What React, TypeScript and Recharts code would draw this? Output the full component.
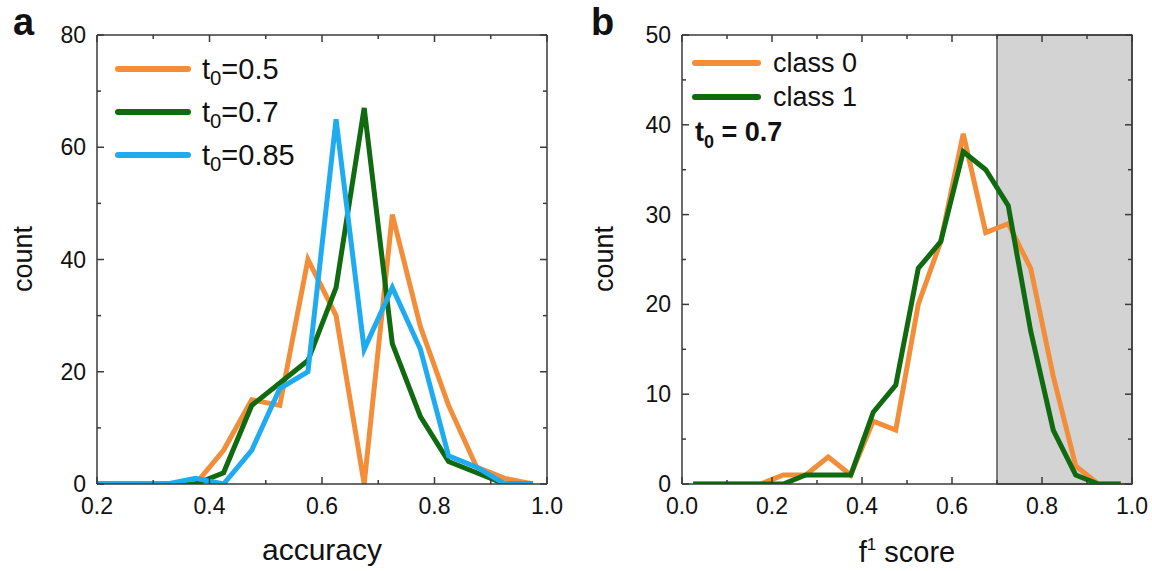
import React from "react";
import { LineChart, Line, XAxis, YAxis, ReferenceArea, Legend } from "recharts";

// panel a: accuracy histograms (bin centres)
const accBins = [0.175, 0.225, 0.275, 0.325, 0.375, 0.425, 0.475, 0.525, 0.575, 0.625, 0.675, 0.725, 0.775, 0.825, 0.875, 0.925, 0.975];
const accT050 = [0, 0, 0, 0, 0, 6, 15, 14, 40, 30, 0, 48, 28, 14, 3, 1, 0];
const accT070 = [0, 0, 0, 0, 0, 2, 14, 18, 22, 35, 67, 25, 12, 4, 2, 0, 0];
const accT085 = [0, 0, 0, 0, 1, 0, 6, 17, 20, 65, 24, 35, 24, 5, 3, 0, 0];

// panel b: f1 score histograms
const f1Bins = [0.025, 0.075, 0.125, 0.175, 0.225, 0.275, 0.325, 0.375, 0.425, 0.475, 0.525, 0.575, 0.625, 0.675, 0.725, 0.775, 0.825, 0.875, 0.925, 0.975];
const f1Class0 = [0, 0, 0, 0, 1, 1, 3, 1, 7, 6, 20, 27, 39, 28, 29, 24, 12, 2, 0, 0];
const f1Class1 = [0, 0, 0, 0, 0, 1, 1, 1, 8, 11, 24, 27, 37, 35, 31, 17, 6, 1, 0, 0];

const accXTicks = [0.2, 0.3, 0.4, 0.5, 0.6, 0.7, 0.8, 0.9, 1.0];
const accXMajor = [0.2, 0.4, 0.6, 0.8, 1.0];
const accYTicks = [0, 10, 20, 30, 40, 50, 60, 70, 80];
const accYMajor = [0, 20, 40, 60, 80];

const f1XTicks = [0, 0.1, 0.2, 0.3, 0.4, 0.5, 0.6, 0.7, 0.8, 0.9, 1.0];
const f1XMajor = [0, 0.2, 0.4, 0.6, 0.8, 1.0];
const f1YTicks = [0, 5, 10, 15, 20, 25, 30, 35, 40, 45, 50];
const f1YMajor = [0, 10, 20, 30, 40, 50];

const threshold = 0.7;

const ORANGE = "#f28e3a";
const GREEN = "#106a10";
const BLUE = "#1fabf0";
const FRAME = "#3a3a3a";
const FONT = '"Liberation Sans", Arial, Helvetica, sans-serif';

const accData = accBins.map((x, i) => ({ x, a: accT050[i], b: accT070[i], c: accT085[i] }));
const f1Data = f1Bins.map((x, i) => ({ x, c0: f1Class0[i], c1: f1Class1[i] }));

type Side = "bottom" | "left" | "top" | "right";

// inward tick marks, longer on majors; labels only on bottom/left majors
const tickMark =
  (side: Side, majors: number[], fmt?: (v: number) => string) =>
  (p: any) => {
    const v = p.payload.value;
    const major = majors.some((m) => Math.abs(m - v) < 1e-6);
    const len = major ? 7 : 4;
    const { x, y } = p;
    const txt = { fontFamily: FONT, fontSize: 23, fill: "#111" };
    if (side === "bottom")
      return (
        <g>
          <line x1={x} x2={x} y1={y} y2={y - len} stroke={FRAME} strokeWidth={1.5} />
          {fmt && major && (
            <text x={x} y={y + 30} textAnchor="middle" {...txt}>
              {fmt(v)}
            </text>
          )}
        </g>
      );
    if (side === "left")
      return (
        <g>
          <line x1={x} x2={x + len} y1={y} y2={y} stroke={FRAME} strokeWidth={1.5} />
          {fmt && major && (
            <text x={x - 11} y={y + 8} textAnchor="end" {...txt}>
              {fmt(v)}
            </text>
          )}
        </g>
      );
    if (side === "top")
      return <line x1={x} x2={x} y1={y} y2={y + len} stroke={FRAME} strokeWidth={1.5} />;
    return <line x1={x} x2={x - len} y1={y} y2={y} stroke={FRAME} strokeWidth={1.5} />;
  };

const sub0 = (name: string) =>
  name.startsWith("t0") ? (
    <>
      t
      <span style={{ fontSize: "0.7em", position: "relative", top: "0.3em" }}>0</span>
      {name.slice(2)}
    </>
  ) : (
    name
  );

const legendContent = (lineW: number, rowH: number, gap: number, fontSize: number) => (props: any) => (
  <div>
    {(props.payload || []).map((e: any) => (
      <div key={e.value} style={{ display: "flex", alignItems: "center", height: rowH }}>
        <svg width={lineW + 6} height={8}>
          <line x1={3} x2={lineW + 3} y1={4} y2={4} stroke={e.color} strokeWidth={6} strokeLinecap="round" />
        </svg>
        <span style={{ marginLeft: gap, fontFamily: FONT, fontSize, color: "#111", lineHeight: 1 }}>
          {sub0(e.value)}
        </span>
      </div>
    ))}
  </div>
);

const axisLine = { stroke: FRAME, strokeWidth: 1.5 };

const frameAxes = (
  yKey: string,
  xDomain: [number, number],
  xTicks: number[],
  xMajor: number[],
  yDomain: [number, number],
  yTicks: number[],
  yMajor: number[]
) => [
  <XAxis
    key="xb"
    type="number"
    dataKey="x"
    domain={xDomain}
    ticks={xTicks}
    interval={0}
    allowDataOverflow
    height={40}
    axisLine={axisLine}
    tickLine={false}
    tickSize={0}
    tickMargin={0}
    tick={tickMark("bottom", xMajor, (v) => v.toFixed(1))}
  />,
  <XAxis
    key="xt"
    xAxisId="top"
    orientation="top"
    type="number"
    dataKey="x"
    domain={xDomain}
    ticks={xTicks}
    interval={0}
    allowDataOverflow
    height={1}
    axisLine={axisLine}
    tickLine={false}
    tickSize={0}
    tickMargin={0}
    tick={tickMark("top", xMajor)}
  />,
  <YAxis
    key="yl"
    type="number"
    domain={yDomain}
    ticks={yTicks}
    interval={0}
    allowDataOverflow
    width={60}
    axisLine={axisLine}
    tickLine={false}
    tickSize={0}
    tickMargin={0}
    tick={tickMark("left", yMajor, (v) => String(v))}
  />,
  <YAxis
    key="yr"
    yAxisId="right"
    orientation="right"
    type="number"
    dataKey={yKey}
    domain={yDomain}
    ticks={yTicks}
    interval={0}
    allowDataOverflow
    width={1}
    axisLine={axisLine}
    tickLine={false}
    tickSize={0}
    tickMargin={0}
    tick={tickMark("right", yMajor)}
  />,
];

export default function App() {
  return (
    <div style={{ position: "absolute", left: 0, top: 0, width: 1152, height: 571, background: "#fff", fontFamily: FONT }}>
      <div style={{ position: "absolute", left: 0, top: 0 }}>
        <LineChart width={576} height={571} data={accData} margin={{ top: 34, left: 37, right: 28, bottom: 47 }}>
          {frameAxes("a", [0.2, 1.0], accXTicks, accXMajor, [0, 80], accYTicks, accYMajor)}
          <Line type="linear" dataKey="a" name="t0=0.5" stroke={ORANGE} strokeWidth={5} dot={false} isAnimationActive={false} />
          <Line type="linear" dataKey="b" name="t0=0.7" stroke={GREEN} strokeWidth={5} dot={false} isAnimationActive={false} />
          <Line type="linear" dataKey="c" name="t0=0.85" stroke={BLUE} strokeWidth={5} dot={false} isAnimationActive={false} />
          <Legend
            layout="horizontal"
            verticalAlign="middle"
            align="center"
            wrapperStyle={{ left: 115, top: 47.5, width: "auto", height: "auto" }}
            content={legendContent(70, 43, 11, 29)}
          />
        </LineChart>
      </div>
      <div style={{ position: "absolute", left: 576, top: 0 }}>
        <LineChart width={576} height={571} data={f1Data} margin={{ top: 34, left: 46, right: 19, bottom: 47 }}>
          <ReferenceArea x1={threshold} x2={1.0} fill="#d3d3d3" fillOpacity={1} stroke="#555" strokeWidth={1.5} />
          {frameAxes("c0", [0, 1.0], f1XTicks, f1XMajor, [0, 50], f1YTicks, f1YMajor)}
          <Line type="linear" dataKey="c0" name="class 0" stroke={ORANGE} strokeWidth={5} dot={false} isAnimationActive={false} />
          <Line type="linear" dataKey="c1" name="class 1" stroke={GREEN} strokeWidth={5} dot={false} isAnimationActive={false} />
          <Legend
            layout="horizontal"
            verticalAlign="middle"
            align="center"
            wrapperStyle={{ left: 116, top: 46, width: "auto", height: "auto" }}
            content={legendContent(63, 34, 12, 27)}
          />
        </LineChart>
      </div>
      <svg width={1152} height={571} style={{ position: "absolute", left: 0, top: 0, pointerEvents: "none" }}>
        <g fontFamily={FONT} fill="#111">
          <text x={13} y={35} fontSize={38} fontWeight="bold">a</text>
          <text x={591} y={35} fontSize={38} fontWeight="bold">b</text>
          <text x={32} y={259} fontSize={27} textAnchor="middle" transform="rotate(-90 32 259)">count</text>
          <text x={613} y={259} fontSize={27} textAnchor="middle" transform="rotate(-90 613 259)">count</text>
          <text x={322} y={560} fontSize={30} textAnchor="middle">accuracy</text>
          <text x={907} y={562} fontSize={29} textAnchor="middle">
            f<tspan dy={-12} fontSize={17}>1</tspan>
            <tspan dy={12}> score</tspan>
          </text>
          <text x={695} y={141} fontSize={27} fontWeight="bold">
            t<tspan dy={7} fontSize={18}>0</tspan>
            <tspan dy={-7}> = 0.7</tspan>
          </text>
        </g>
      </svg>
    </div>
  );
}
